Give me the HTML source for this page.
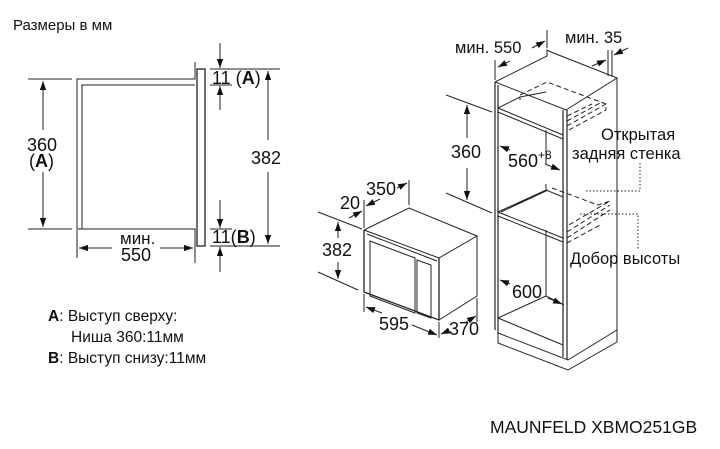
<!DOCTYPE html>
<html><head><meta charset="utf-8"><style>
html,body{margin:0;padding:0;background:#fff;}
svg{display:block;}
text{font-family:"Liberation Sans",Arial,sans-serif;fill:#111;}
</style></head><body>
<svg width="720" height="449" viewBox="0 0 720 449" xmlns="http://www.w3.org/2000/svg">
<defs>
<marker id="a" viewBox="0 0 10 10" refX="10" refY="5" markerWidth="9" markerHeight="9" orient="auto-start-reverse" markerUnits="userSpaceOnUse"><path d="M0,1.5 L10,5 L0,8.5 z" fill="#111"/></marker>
</defs>
<g stroke="#222" stroke-width="1" fill="none">
<path d="M195,62 V79 H77 V229 H195 V263"/>
<path d="M195,85 H82 V229"/>
<rect x="197" y="69" width="8" height="177" stroke-width="1.3"/>
<line x1="28" y1="79" x2="72" y2="79"/>
<line x1="28" y1="229" x2="72" y2="229"/>
<line x1="43" y1="81" x2="43" y2="130" marker-start="url(#a)"/>
<line x1="43" y1="172" x2="43" y2="227" marker-end="url(#a)"/>
<line x1="210" y1="69" x2="280" y2="69"/>
<line x1="210" y1="85" x2="232" y2="85"/>
<line x1="210" y1="246" x2="280" y2="246"/>
<line x1="210" y1="229" x2="232" y2="229"/>
<line x1="268" y1="71" x2="268" y2="140" marker-start="url(#a)"/>
<line x1="268" y1="172" x2="268" y2="244" marker-end="url(#a)"/>
<line x1="220" y1="43" x2="220" y2="68" marker-end="url(#a)"/>
<line x1="220" y1="110" x2="220" y2="86" marker-end="url(#a)"/>
<line x1="220" y1="200" x2="220" y2="228" marker-end="url(#a)"/>
<line x1="220" y1="272" x2="220" y2="247" marker-end="url(#a)"/>
<line x1="77" y1="230" x2="77" y2="258"/>
<line x1="79" y1="248" x2="112" y2="248" marker-start="url(#a)"/>
<line x1="160" y1="248" x2="193" y2="248" marker-end="url(#a)"/>

<path d="M364,230 L409,208 L477,236 L477,296 L439,320"/>
<path d="M364,230 L439,258 L477,236"/>
<path d="M364,230 V292 L439,320 V258" stroke-width="1.3"/>
<path d="M367,234 L437,261"/>
<path d="M370,241 L415,258 L415,313 L370,296 Z"/>
<path d="M417,260 L431,265 L431,318 L417,313 Z"/>
<line x1="318" y1="212" x2="362" y2="229"/>
<line x1="318" y1="272" x2="358" y2="290"/>
<line x1="338" y1="222" x2="338" y2="238" marker-start="url(#a)"/>
<line x1="338" y1="262" x2="338" y2="279" marker-end="url(#a)"/>
<line x1="364" y1="200" x2="364" y2="228"/>
<line x1="409" y1="180" x2="409" y2="205"/>
<line x1="349" y1="218" x2="362" y2="211" marker-end="url(#a)"/>
<line x1="366" y1="206" x2="380" y2="199" marker-start="url(#a)"/>
<line x1="397" y1="188" x2="407" y2="183" marker-end="url(#a)"/>
<line x1="364" y1="294" x2="364" y2="312"/>
<line x1="439" y1="322" x2="439" y2="338"/>
<line x1="477" y1="298" x2="477" y2="322"/>
<line x1="366" y1="307" x2="382" y2="313" marker-start="url(#a)"/>
<line x1="412" y1="325" x2="437" y2="335" marker-end="url(#a)"/>
<line x1="441" y1="334" x2="448" y2="331" marker-start="url(#a)"/>
<line x1="466" y1="322" x2="476" y2="316" marker-end="url(#a)"/>

<path d="M495,82 L547,56 L547,50 L551,52 L617,78 L566,110 L495,82" />
<path d="M495,82 V330 M498,85 V333" stroke-width="1.2"/>
<path d="M563,110 V357 M567,110 V360" stroke-width="1.2"/>
<path d="M617,78 V327"/>
<path d="M498,333 V343 L568,370 L617,342 V327"/>
<path d="M498,333 L568,360 L617,330"/>
<path d="M498,318 L563,345"/>
<path d="M498,318 L546,296 V230"/>
<path d="M546,296 L564,305"/>
<path d="M498,108 L563,135 M498,112 L563,139"/>
<path d="M498,108 L520,97 L546,92 M520,97 V100"/>
<path d="M546,130 V165"/>
<path d="M498,212 L546,190 L563,197 M498,212 L563,238 M498,216 L563,242 M501,212 L548,190"/>
<path d="M546,184 V190"/>
<g stroke-dasharray="5,3">
<path d="M520,95 L547,82 L606,104 L606,110 L567,131"/>
<path d="M567,126 L606,104 M567,121 L600,103 M567,116 L592,104"/>
<path d="M552,188 L598,205 L610,201 L567,226 M567,232 L610,205 M567,238 L610,210 M567,243 L600,225"/>
</g>
<g stroke-dasharray="1.5,2">
<path d="M586,191 H640 V162"/>
<path d="M580,214 H638 V249"/>
</g>
<line x1="446" y1="95" x2="492" y2="112"/>
<line x1="446" y1="193" x2="492" y2="213"/>
<line x1="467" y1="105" x2="467" y2="138" marker-start="url(#a)"/>
<line x1="467" y1="168" x2="467" y2="200" marker-end="url(#a)"/>
<line x1="495" y1="60" x2="495" y2="80"/>
<line x1="547" y1="30" x2="547" y2="48"/>
<line x1="498" y1="67" x2="510" y2="61" marker-start="url(#a)"/>
<line x1="532" y1="48" x2="545" y2="41" marker-end="url(#a)"/>
<line x1="608" y1="50" x2="608" y2="76"/>
<line x1="612" y1="50" x2="612" y2="76"/>
<line x1="592" y1="66" x2="606" y2="60" marker-end="url(#a)"/>
<line x1="628" y1="48" x2="614" y2="55" marker-end="url(#a)"/>
<line x1="500" y1="146" x2="510" y2="150" marker-start="url(#a)"/>
<line x1="545" y1="164" x2="560" y2="170" marker-end="url(#a)"/>
<line x1="500" y1="280" x2="510" y2="284" marker-start="url(#a)"/>
<line x1="548" y1="298" x2="562" y2="304" marker-end="url(#a)"/>
</g>
<text x="13" y="30" font-size="15">Размеры в мм</text>
<text x="27" y="151" font-size="18">360</text>
<text x="29" y="167" font-size="18">(<tspan font-weight="bold">A</tspan>)</text>
<text x="251" y="164" font-size="18">382</text>
<text x="212" y="84" font-size="18">11 (<tspan font-weight="bold">A</tspan>)</text>
<text x="212" y="243" font-size="18">11(<tspan font-weight="bold">B</tspan>)</text>
<text x="120" y="244" font-size="17">мин.</text>
<text x="121" y="261" font-size="18">550</text>
<text x="48" y="321" font-size="15.5"><tspan font-weight="bold">A</tspan>: Выступ сверху:</text>
<text x="71" y="342" font-size="15.5">Ниша 360:11мм</text>
<text x="48" y="363" font-size="15.5"><tspan font-weight="bold">B</tspan>: Выступ снизу:11мм</text>
<text x="322" y="256" font-size="18">382</text>
<text x="340" y="209" font-size="18">20</text>
<text x="366" y="195" font-size="18">350</text>
<text x="379" y="330" font-size="18">595</text>
<text x="449" y="335" font-size="18">370</text>
<text x="455" y="53" font-size="16.5">мин. 550</text>
<text x="565" y="43" font-size="16.5">мин. 35</text>
<text x="451" y="158" font-size="18">360</text>
<text x="508" y="167" font-size="18">560<tspan font-size="12" dy="-8">+8</tspan></text>
<text x="601" y="140" font-size="16.5">Открытая</text>
<text x="572" y="159" font-size="16.5">задняя стенка</text>
<text x="570" y="264" font-size="16.5">Добор высоты</text>
<text x="512" y="298" font-size="18">600</text>
<text x="490" y="433" font-size="17.5">MAUNFELD XBMO251GB</text>
</svg>
</body></html>
